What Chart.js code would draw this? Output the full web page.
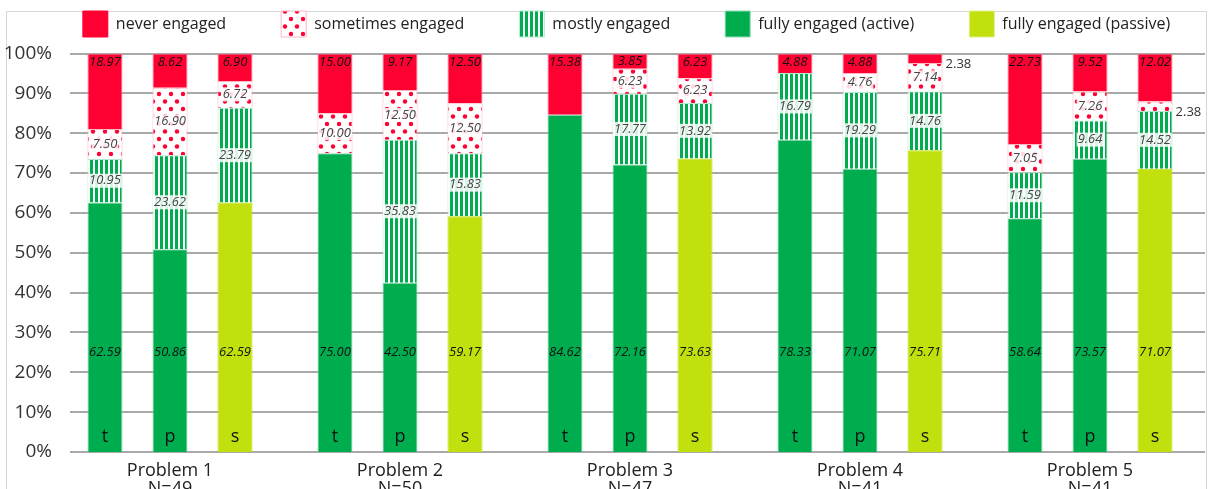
<!DOCTYPE html>
<html>
<head>
<meta charset="utf-8">
<script src="https://cdn.jsdelivr.net/npm/chart.js@4.4.1/dist/chart.umd.min.js"></script>
<style>
  html, body { margin: 0; padding: 0; background: #fff; overflow: hidden; }
  #wrap { position: relative; width: 1208px; height: 489px; }
  #frame { position: absolute; left: 6px; top: 11px; width: 1199px; height: 490px; border: 1px solid #d6d6d6; }
  canvas { position: relative; }
</style>
</head>
<body>
<div id="wrap"><div id="frame"></div><canvas id="engChart"></canvas></div>
<script>
const problems = ['Problem 1', 'Problem 2', 'Problem 3', 'Problem 4', 'Problem 5'];
const nValues = [49, 50, 47, 41, 41];

// t = teacher, p = peer, s = self (bottom letters)
const fullyT = [62.59, 75.00, 84.62, 78.33, 58.64];
const fullyP = [50.86, 42.50, 72.16, 71.07, 73.57];
const fullyS = [62.59, 59.17, 73.63, 75.71, 71.07];
const mostlyT = [10.95, 0, 0, 16.79, 11.59];
const mostlyP = [23.62, 35.83, 17.77, 19.29, 9.64];
const mostlyS = [23.79, 15.83, 13.92, 14.76, 14.52];
const sometimesT = [7.50, 10.00, 0, 0, 7.05];
const sometimesP = [16.90, 12.50, 6.23, 4.76, 7.26];
const sometimesS = [6.72, 12.50, 6.23, 7.14, 2.38];
const neverT = [18.97, 15.00, 15.38, 4.88, 22.73];
const neverP = [8.62, 9.17, 3.85, 4.88, 9.52];
const neverS = [6.90, 12.50, 6.23, 2.38, 12.02];

const legendNames = ['never engaged', 'sometimes engaged', 'mostly engaged', 'fully engaged (active)', 'fully engaged (passive)'];
const yTicks = [0, 10, 20, 30, 40, 50, 60, 70, 80, 90, 100];

const RED = '#ff0033';
const GREEN = '#00ad4e';
const LIME = '#c2e00e';
const FONT = '"Open Sans", "DejaVu Sans", sans-serif';
const LEG_PAD = 55;

function stripes() {
  const c = document.createElement('canvas');
  c.width = 5; c.height = 10;
  const g = c.getContext('2d');
  g.fillStyle = '#fff'; g.fillRect(0, 0, 5, 10);
  g.fillStyle = GREEN; g.fillRect(0, 0, 3, 10);
  return g.createPattern(c, 'repeat');
}
function dots() {
  const c = document.createElement('canvas');
  c.width = 12; c.height = 15;
  const g = c.getContext('2d');
  g.fillStyle = '#fff'; g.fillRect(0, 0, 12, 15);
  g.fillStyle = RED;
  [[3, 4], [9, 11.5]].forEach(([x, y]) => { g.beginPath(); g.arc(x, y, 2.2, 0, Math.PI * 2); g.fill(); });
  return g.createPattern(c, 'repeat');
}
const stripeFill = stripes();
const dotFill = dots();

const groups = [
  { stack: 't', fully: fullyT, passive: false, mostly: mostlyT, sometimes: sometimesT, never: neverT },
  { stack: 'p', fully: fullyP, passive: false, mostly: mostlyP, sometimes: sometimesP, never: neverP },
  { stack: 's', fully: fullyS, passive: true, mostly: mostlyS, sometimes: sometimesS, never: neverS }
];

const datasets = [];
groups.forEach(g => {
  datasets.push({ kind: 'fully', letter: g.stack, stack: g.stack, data: g.fully,
    backgroundColor: g.passive ? LIME : GREEN, borderColor: g.passive ? LIME : '#8fdcb4', borderWidth: 1 });
  datasets.push({ kind: 'mostly', letter: g.stack, stack: g.stack, data: g.mostly,
    backgroundColor: stripeFill, borderColor: '#b3e9cf', borderWidth: 1 });
  datasets.push({ kind: 'sometimes', letter: g.stack, stack: g.stack, data: g.sometimes,
    backgroundColor: dotFill, borderColor: '#ffb6c4', borderWidth: 1 });
  datasets.push({ kind: 'never', letter: g.stack, stack: g.stack, data: g.never,
    backgroundColor: RED, borderColor: '#ff8aa0', borderWidth: 1 });
});

const legendStyles = [
  { fillStyle: RED, strokeStyle: RED },
  { fillStyle: dotFill, strokeStyle: '#ffb6c4' },
  { fillStyle: stripeFill, strokeStyle: '#b3e9cf' },
  { fillStyle: GREEN, strokeStyle: '#8fdcb4' },
  { fillStyle: LIME, strokeStyle: '#e0f08a' }
];

// horizontal grid lines, starting a bit right of the tick labels
const gridPlugin = {
  id: 'gridLines',
  beforeDatasetsDraw(chart) {
    const { ctx, chartArea, scales: { y } } = chart;
    ctx.save();
    ctx.strokeStyle = '#8d8d8d';
    ctx.lineWidth = 1.5;
    y.ticks.forEach(t => {
      const py = Math.round(y.getPixelForValue(t.value));
      ctx.beginPath();
      ctx.moveTo(chartArea.left + 15, py);
      ctx.lineTo(chartArea.right, py);
      ctx.stroke();
    });
    ctx.restore();
  }
};

// fixed legend height so the plot starts where the original does; legend row nudged right
const legendFit = {
  id: 'legendFit',
  afterInit(chart) {
    const lg = chart.legend;
    const fit = lg.fit;
    lg.fit = function () { fit.call(this); this.height = 42.5 + LEG_PAD; };
  },
  afterLayout(chart) {
    chart.legend.left += 24;
    chart.legend.right += 24;
  }
};

const labelPlugin = {
  id: 'segLabels',
  afterDatasetsDraw(chart) {
    const { ctx, scales: { y } } = chart;
    ctx.save();
    ctx.textBaseline = 'middle';
    chart.data.datasets.forEach((ds, i) => {
      const meta = chart.getDatasetMeta(i);
      meta.data.forEach((bar, j) => {
        const v = ds.data[j];
        const { x, y: top, base, width } = bar.getProps(['x', 'y', 'base', 'width'], true);
        ctx.textAlign = 'center';
        if (ds.kind === 'fully') {
          ctx.font = '18px ' + FONT;
          ctx.fillStyle = '#111';
          ctx.fillText(ds.letter, x, base - 15);
        }
        if (!v) return;
        const txt = v.toFixed(2);
        const mid = (top + base) / 2;
        if (v < 3) {
          ctx.font = '13px ' + FONT;
          ctx.fillStyle = '#333';
          ctx.textAlign = 'left';
          ctx.fillText(txt, x + width / 2 + 3, base + 1);
          return;
        }
        ctx.font = 'italic 13px ' + FONT;
        if (ds.kind === 'fully') {
          ctx.fillStyle = '#111';
          ctx.fillText(txt, x, y.getPixelForValue(25));
        } else if (ds.kind === 'never') {
          ctx.fillStyle = '#111';
          ctx.fillText(txt, x, Math.min(mid, top + 9));
        } else {
          const w = ctx.measureText(txt).width;
          ctx.fillStyle = 'rgba(255,255,255,0.85)';
          ctx.fillRect(x - w / 2 - 1, mid - 7, w + 2, 14);
          ctx.fillStyle = '#444';
          ctx.fillText(txt, x, mid);
        }
      });
    });
    ctx.restore();
  }
};

new Chart(document.getElementById('engChart'), {
  type: 'bar',
  data: {
    labels: problems.map((p, i) => [p, 'N=' + nValues[i]]),
    datasets: datasets
  },
  options: {
    responsive: true,
    maintainAspectRatio: false,
    animation: false,
    layout: { padding: { top: 11 - LEG_PAD, left: 0, right: 3, bottom: 0 } },
    datasets: { bar: { categoryPercentage: 0.848, barPercentage: 0.54 } },
    plugins: {
      tooltip: { enabled: false },
      legend: {
        position: 'top',
        onClick: null,
        labels: {
          boxWidth: 25,
          boxHeight: 26,
          padding: LEG_PAD,
          color: '#222',
          font: { family: FONT, size: 16 },
          generateLabels: () => legendNames.map((name, i) => ({
            text: name,
            fillStyle: legendStyles[i].fillStyle,
            strokeStyle: legendStyles[i].strokeStyle,
            lineWidth: 1,
            hidden: false,
            fontColor: '#222'
          }))
        }
      }
    },
    scales: {
      x: {
        stacked: true,
        grid: { display: false },
        border: { display: false },
        ticks: { color: '#222', font: { family: FONT, size: 18, lineHeight: 1.05 }, padding: 1, maxRotation: 0 },
        afterFit: s => { s.height = 37; }
      },
      y: {
        stacked: true,
        min: 0,
        max: 100,
        afterBuildTicks: s => { s.ticks = yTicks.map(v => ({ value: v })); },
        grid: { display: false },
        border: { display: false },
        ticks: { color: '#333', font: { family: FONT, size: 19 }, padding: -5, callback: v => v + '%' },
        afterFit: s => { s.width = 55; }
      }
    }
  },
  plugins: [gridPlugin, legendFit, labelPlugin]
});
</script>
</body>
</html>
